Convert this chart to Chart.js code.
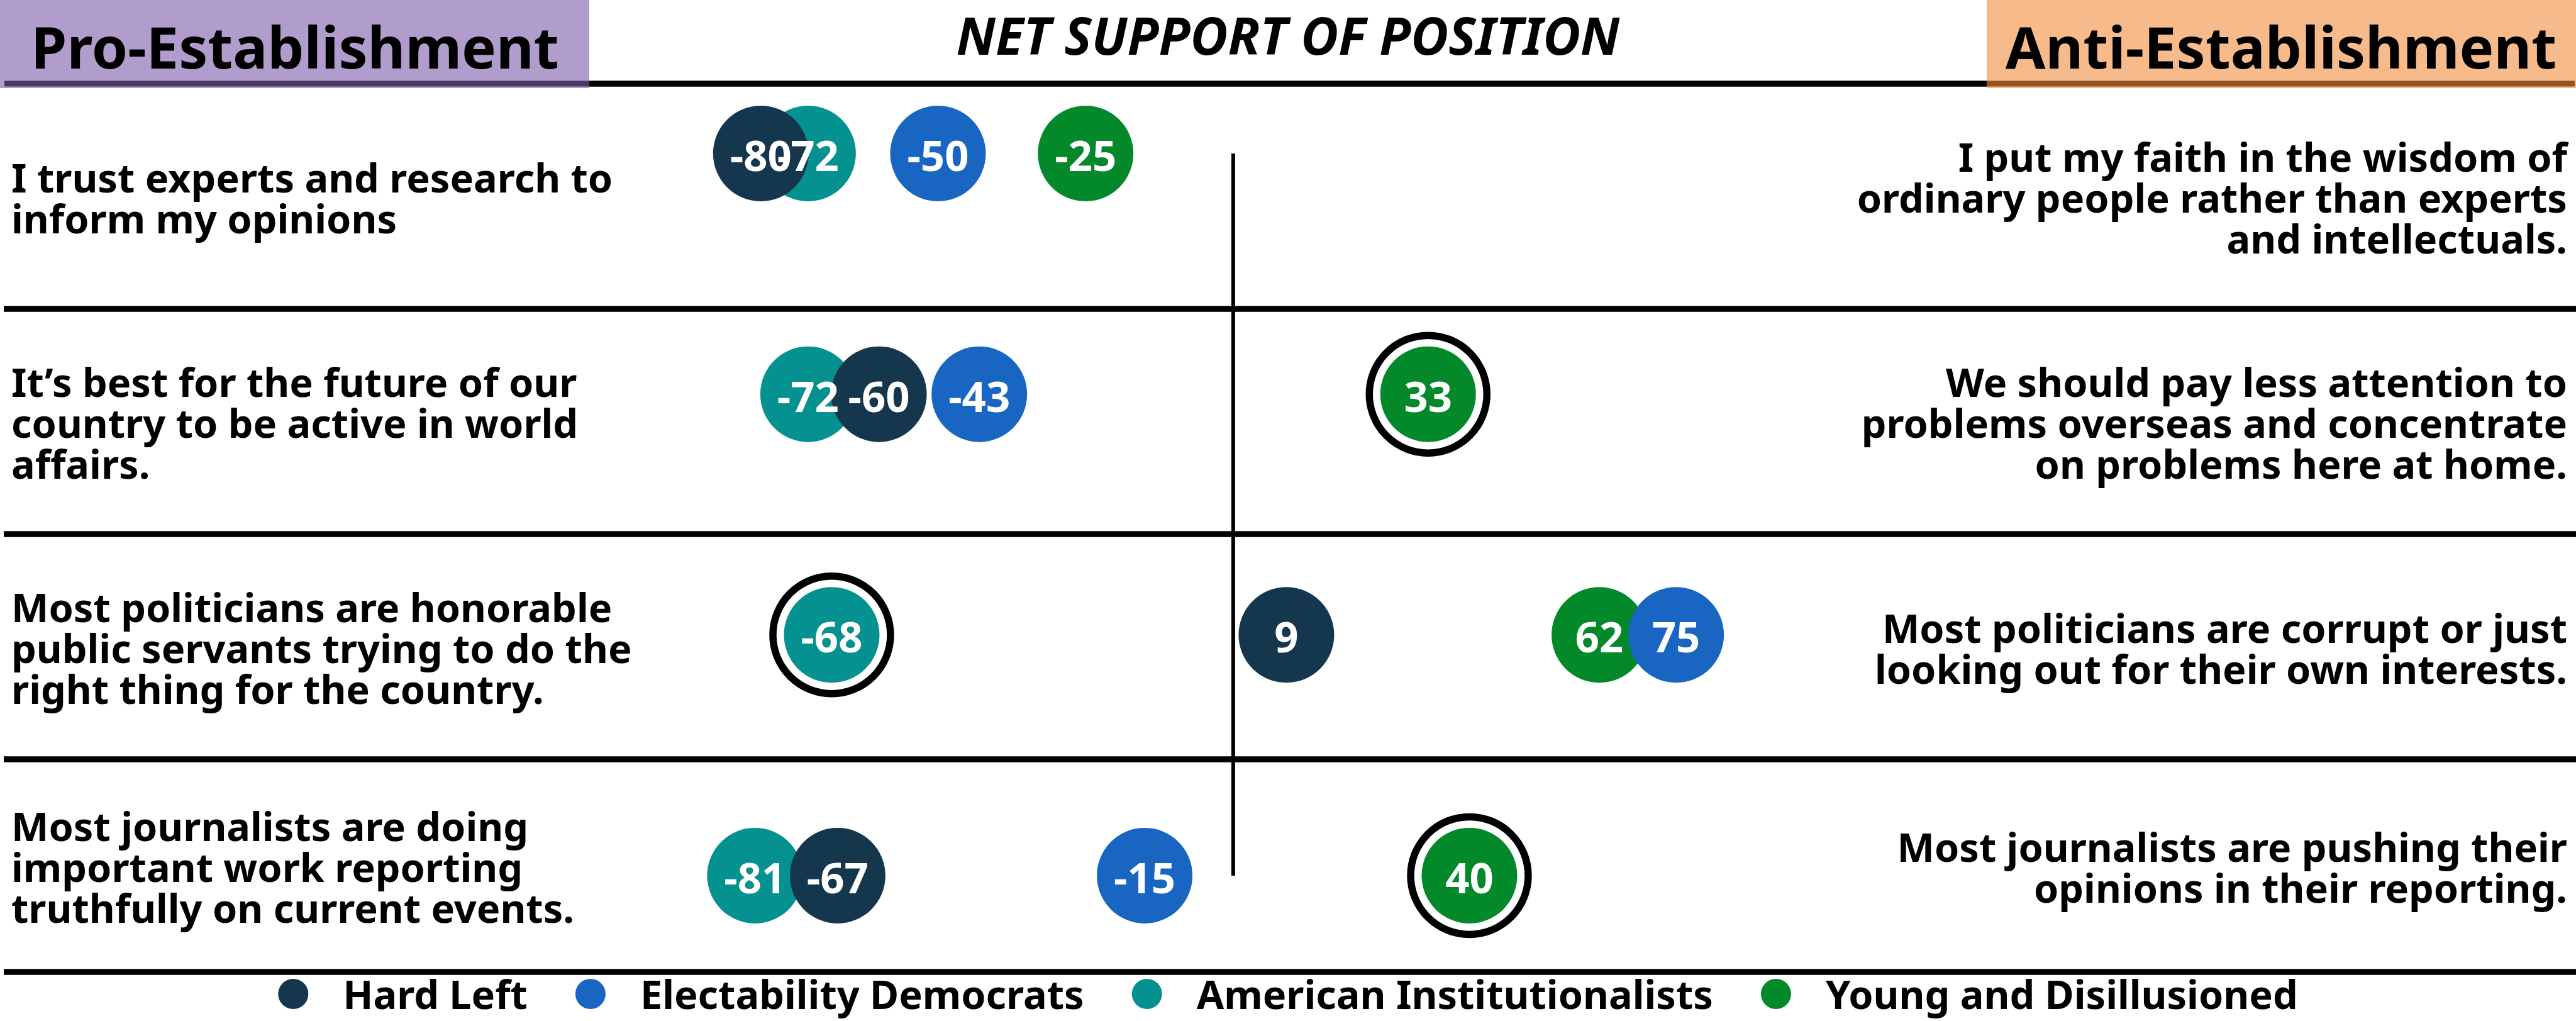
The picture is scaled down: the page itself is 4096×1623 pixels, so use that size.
<!DOCTYPE html>
<html>
<head>
<meta charset="utf-8">
<script src="https://cdn.jsdelivr.net/npm/chart.js@4.4.1/dist/chart.umd.min.js"></script>
<style>
  html, body { margin: 0; padding: 0; background: #fff; }
  canvas { display: block; }
</style>
</head>
<body>
<canvas id="chart" width="4096" height="1623"></canvas>
<script>
const seriesNames = ['Hard Left', 'Electability Democrats', 'American Institutionalists', 'Young and Disillusioned'];
const seriesColors = ['#15374d', '#1866c2', '#069191', '#03882a'];

// net support per statement row (top to bottom)
const hardLeft = [-80, -60, 9, -67];
const electabilityDemocrats = [-50, -43, 75, -15];
const americanInstitutionalists = [-72, -72, -68, -81];
const youngAndDisillusioned = [-25, 33, 62, 40];

// which series gets the black ring in each row (-1 = none)
const highlighted = [-1, 3, 2, 3];

const proStatements = [
  ['I trust experts and research to', 'inform my opinions'],
  ['It\u2019s best for the future of our', 'country to be active in world', 'affairs.'],
  ['Most politicians are honorable', 'public servants trying to do the', 'right thing for the country.'],
  ['Most journalists are doing', 'important work reporting', 'truthfully on current events.'],
];
const antiStatements = [
  ['I put my faith in the wisdom of', 'ordinary people rather than experts', 'and intellectuals.'],
  ['We should pay less attention to', 'problems overseas and concentrate', 'on problems here at home.'],
  ['Most politicians are corrupt or just', 'looking out for their own interests.'],
  ['Most journalists are pushing their', 'opinions in their reporting.'],
];

const W = 4096, H = 1623;
const FONT = '"Noto Sans", sans-serif';
const ruleY = [133, 491, 849, 1207, 1545];
const bandMid = [312, 670, 1028, 1376];

const allSeries = [hardLeft, electabilityDemocrats, americanInstitutionalists, youngAndDisillusioned];
const toPoints = (values) => values.map((v, row) => ({ x: v, y: row }));

const datasets = allSeries.map((values, i) => ({
  label: seriesNames[i],
  data: toPoints(values),
  backgroundColor: seriesColors[i],
  borderWidth: 0,
  pointRadius: 76,
  pointHoverRadius: 76,
}));

datasets.push({
  label: 'highlight',
  data: highlighted
    .map((s, row) => (s < 0 ? null : { x: allSeries[s][row], y: row }))
    .filter(Boolean),
  backgroundColor: '#fff',
  borderColor: '#000',
  borderWidth: 11.5,
  pointRadius: 93.5,
  pointHoverRadius: 93.5,
});

datasets.push({
  type: 'line',
  label: 'zero',
  data: [{ x: 0, y: 0 }, { x: 0, y: highlighted.length - 1 }],
  borderColor: '#000',
  borderWidth: 6,
  pointRadius: 0,
});

const drawLines = (ctx, lines, x, mid, align) => {
  const step = 65;
  ctx.textAlign = align;
  ctx.textBaseline = 'alphabetic';
  const first = mid - ((lines.length - 1) * step) / 2 + 26;
  lines.forEach((line, i) => ctx.fillText(line, x, first + i * step));
};

const decorations = {
  id: 'decorations',
  beforeDatasetsDraw(chart) {
    const ctx = chart.ctx;
    ctx.save();
    ctx.fillStyle = '#000';
    ruleY.forEach((y) => ctx.fillRect(y === ruleY[0] ? 0 : 6, y - 4.75, W, 9.5));

    // header boxes
    ctx.fillStyle = '#b09dcb';
    ctx.fillRect(0, 0, 937, 140);
    ctx.fillStyle = '#4b3763';
    ctx.fillRect(7, 128.5, 930, 9);
    ctx.fillStyle = '#f7bb8b';
    ctx.fillRect(3159, 0, W - 3159, 140);
    ctx.fillStyle = '#915422';
    ctx.fillRect(3159, 128.5, W - 3159 - 2, 9);

    ctx.fillStyle = '#000';
    ctx.textAlign = 'center';
    ctx.textBaseline = 'alphabetic';
    ctx.font = `700 92px ${FONT}`;
    ctx.fillText('Pro-Establishment', 469, 109);
    ctx.fillText('Anti-Establishment', 3627, 109);
    ctx.font = `italic 700 82px ${FONT}`;
    ctx.fillText('NET SUPPORT OF POSITION', 2048, 87);

    ctx.font = `700 63px ${FONT}`;
    proStatements.forEach((lines, r) => drawLines(ctx, lines, 18, bandMid[r], 'left'));
    antiStatements.forEach((lines, r) => drawLines(ctx, lines, 4082, bandMid[r], 'right'));

    // legend
    ctx.font = `700 63px ${FONT}`;
    const dotR = 24, dotGap = 79, itemGap = 100;
    const widths = seriesNames.map((n) => ctx.measureText(n).width);
    const total = dotR + widths.reduce((a, w) => a + dotGap + w, 0) + itemGap * (seriesNames.length - 1);
    let x = W / 2 - total / 2 + dotR;
    ctx.textAlign = 'left';
    seriesNames.forEach((name, i) => {
      ctx.fillStyle = seriesColors[i];
      ctx.beginPath();
      ctx.arc(x, 1580, dotR, 0, Math.PI * 2);
      ctx.fill();
      ctx.fillStyle = '#000';
      ctx.fillText(name, x + dotGap, 1604);
      x += dotGap + widths[i] + itemGap;
    });
    ctx.restore();
  },
  afterDatasetsDraw(chart) {
    const ctx = chart.ctx;
    ctx.save();
    ctx.fillStyle = '#fff';
    ctx.font = `700 67px ${FONT}`;
    ctx.textAlign = 'center';
    ctx.textBaseline = 'alphabetic';
    allSeries.forEach((values, i) => {
      chart.getDatasetMeta(i).data.forEach((pt, row) => {
        ctx.fillText(String(values[row]), pt.x, pt.y + 28);
      });
    });
    ctx.restore();
  },
};

new Chart(document.getElementById('chart'), {
  type: 'scatter',
  data: { datasets },
  options: {
    responsive: false,
    animation: false,
    devicePixelRatio: 1,
    events: [],
    layout: { padding: 0, autoPadding: false },
    plugins: {
      legend: { display: false },
      tooltip: { enabled: false },
    },
    scales: {
      x: { type: 'linear', min: -208.85, max: 227.4, display: false },
      y: { type: 'linear', min: -0.6377, max: 3.604, reverse: true, display: false },
    },
  },
  plugins: [decorations],
});
</script>
</body>
</html>
